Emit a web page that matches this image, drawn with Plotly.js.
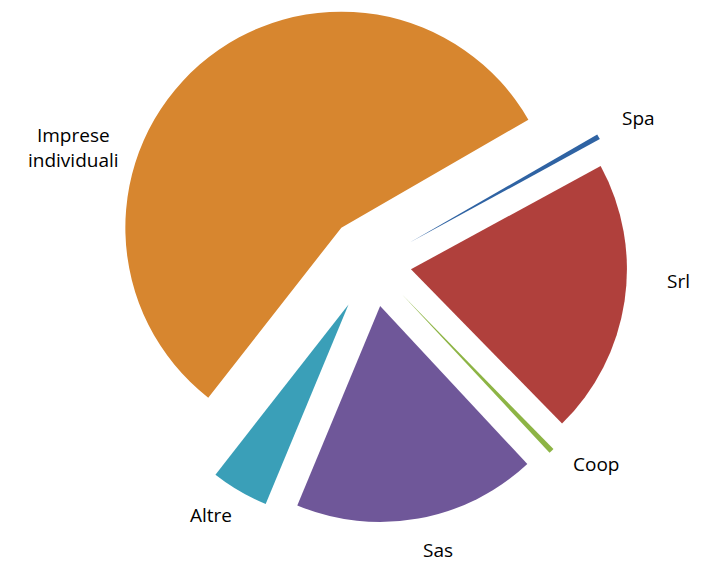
<!DOCTYPE html>
<html>
<head>
<meta charset="utf-8">
<script src="https://cdn.plot.ly/plotly-3.0.1.min.js"></script>
<style>html,body{margin:0;padding:0;background:#fff;}#chart{width:708px;height:562px;}</style>
</head>
<body>
<div id="chart"></div>
<script>
// Data (clockwise order, first slice starting at ~60° from 12 o'clock)
const labels = ["Spa", "Srl", "Coop", "Sas", "Altre", "Imprese<br>individuali"];
const values = [0.4, 20.6, 0.4, 18.2, 4.3, 56.1];
const colors = ["#2F63A3", "#B0403C", "#8DB445", "#6F5799", "#3A9FB8", "#D7862F"];
const pulls = [0.2, 0.18, 0.2, 0.2, 0.22, 0.22];
// Label anchor positions in pixels (centre of text)
const labelPx = [[638, 118], [678, 281], [596, 464], [438, 550], [211, 515], [73, 147]];

const W = 708, H = 562;
const margin = { l: 109, r: 72, t: 0, b: 35 };
const pw = W - margin.l - margin.r, ph = H - margin.t - margin.b;

const trace = {
  type: "pie",
  labels: labels,
  values: values,
  sort: false,
  direction: "clockwise",
  rotation: 60,
  pull: pulls,
  marker: { colors: colors, line: { width: 0 } },
  textinfo: "none",
  hoverinfo: "none",
  automargin: false,
  showlegend: false
};

const annotations = labels.map((lab, i) => ({
  text: lab,
  xref: "paper", yref: "paper",
  x: (labelPx[i][0] - margin.l) / pw,
  y: 1 - (labelPx[i][1] - margin.t) / ph,
  xanchor: "center", yanchor: "middle",
  showarrow: false,
  align: "center",
  font: { family: "Open Sans, Noto Sans, sans-serif", size: 19, color: "#000" }
}));

const layout = {
  width: W,
  height: H,
  margin: margin,
  paper_bgcolor: "#ffffff",
  showlegend: false,
  annotations: annotations
};

Plotly.newPlot("chart", [trace], layout, { displayModeBar: false, staticPlot: true });
</script>
</body>
</html>
